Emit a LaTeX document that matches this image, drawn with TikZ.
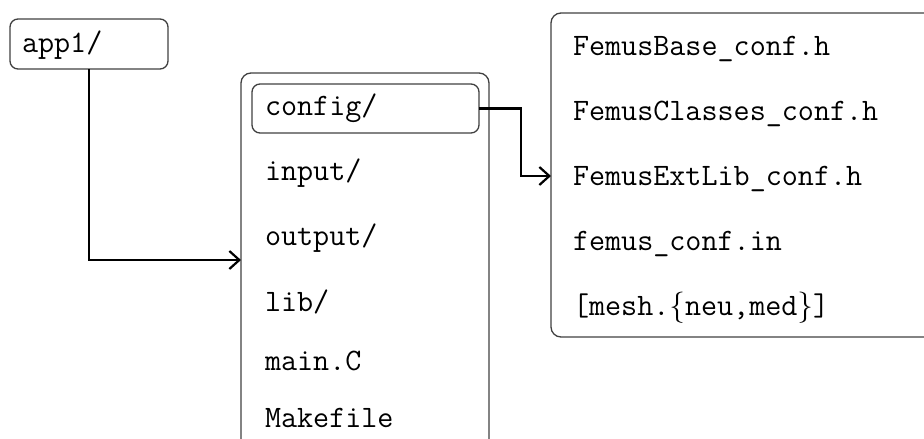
\documentclass[tikz,border=0pt]{standalone}
\usetikzlibrary{arrows.meta}
\tikzset{
  every node/.style={font=\ttfamily\fontsize{31.2}{37}\selectfont},
  panel/.style={draw=black!75, line width=1.3pt, rounded corners=10pt, inner sep=0pt, outer sep=0pt},
  entry/.style={anchor=base west, inner sep=0pt, outer sep=0pt},
  dirbox/.style={draw=black!75, line width=1.3pt, rounded corners=8pt, outer sep=0pt,
    anchor=base west, align=left},
  link/.style={line width=2.6pt, -{Straight Barb[length=10pt,width=18pt,line width=2.2pt]}}
}
\newcommand{\lbr}{{\rmfamily\{}}
\newcommand{\rbr}{{\rmfamily\}}}
\begin{document}
\begin{tikzpicture}[x=1pt,y=-1pt]
  \useasboundingbox (0,0) rectangle (924,439);
  \clip (0,0) rectangle (924,439);

  % top-level directory
  \node[dirbox, inner xsep=12pt, inner ysep=5pt, text width=134pt,
        text height=28pt, text depth=12pt] (app1) at (10,52) {app1/};

  % contents of app1/
  \node[panel, anchor=north west, minimum width=248pt, minimum height=427pt] (appdir) at (241,73) {};
  \node[dirbox, inner xsep=13pt, inner ysep=5pt, text width=201pt,
        text height=26pt, text depth=13pt] (config) at (252,115) {config/};
  \node[entry] (input)  at (265,180) {input/};
  \node[entry] (output) at (265,245) {output/};
  \node[entry] (lib)    at (265,311) {lib/};
  \node[entry] (mainc)  at (265,370) {main.C};
  \node[entry] (make)   at (265,427) {Makefile};

  % contents of config/
  \node[panel, anchor=north west, minimum width=420pt, minimum height=324pt] (confdir) at (551,13) {};
  \node[entry] (fbase)    at (573,55)  {FemusBase\_conf.h};
  \node[entry] (fclasses) at (573,120) {FemusClasses\_conf.h};
  \node[entry] (fextlib)  at (573,185) {FemusExtLib\_conf.h};
  \node[entry] (fconf)    at (573,250) {femus\_conf.in};
  \node[entry] (fmesh)    at (573,315) {[mesh.\lbr neu,med\rbr]};

  % connectors
  \draw[link] (app1.south) |- ([yshift=-187pt]appdir.north west);
  \draw[link] (config.east) -- ++(42,0) |- ([yshift=-163pt]confdir.north west);
\end{tikzpicture}
\end{document}
